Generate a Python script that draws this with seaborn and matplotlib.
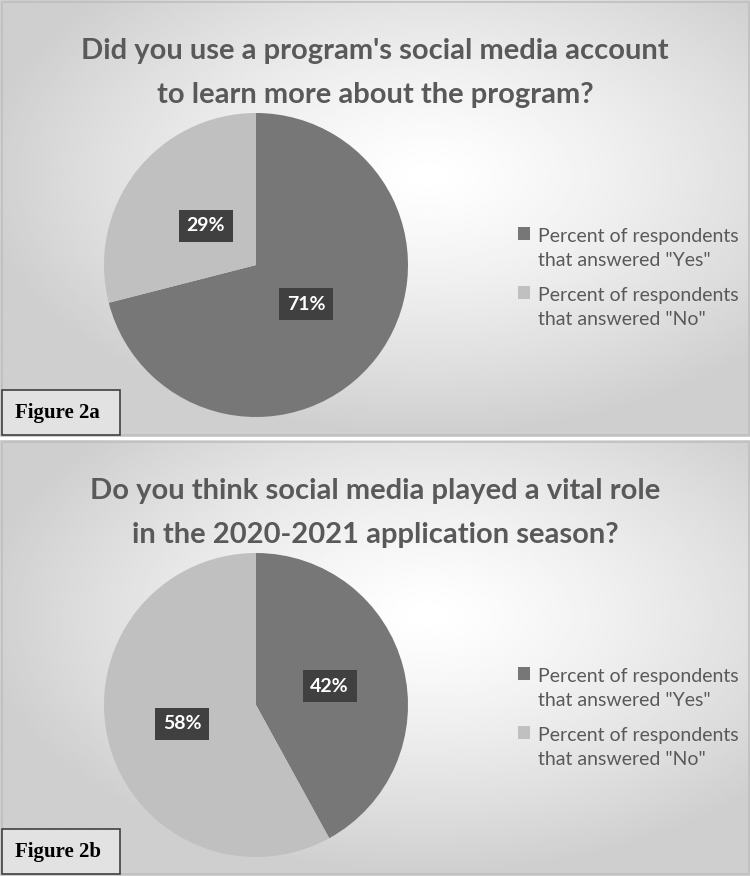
import numpy as np
import matplotlib
matplotlib.use('Agg')
import matplotlib.pyplot as plt
import seaborn as sns
from matplotlib.patches import Rectangle
from matplotlib.legend_handler import HandlerPatch

sns.set_theme(style="white")
plt.rcParams['font.family'] = ['Lato', 'DejaVu Sans']

# Datos de las dos encuestas
preguntas = [
    "Did you use a program's social media account\nto learn more about the program?",
    "Do you think social media played a vital role\nin the 2020-2021 application season?",
]
etiquetas = ['Percent of respondents\nthat answered "Yes"',
             'Percent of respondents\nthat answered "No"']
valores_si = [71, 42]
valores_no = [29, 58]
figuras = ['Figure 2a', 'Figure 2b']

colores = ['#777777', '#c0c0c0']
texto_gris = '#595959'

W, H = 750, 876
fig = plt.figure(figsize=(W / 100, H / 100), dpi=100)

# paneles en pixeles: (top, bottom)
paneles = [(0, 437), (440, 876)]
pct_dist = [0.42, 0.5]


def fx(px):
    return px / W


def fy(py):
    return 1 - py / H


# marcador de la leyenda alineado con la primera linea del texto
def marcador_arriba(legend, orig_handle, xdescent, ydescent, width, height, fontsize):
    return Rectangle((-xdescent, -ydescent + 0.78 * fontsize), width, height)


for i, (top, bottom) in enumerate(paneles):
    alto = bottom - top
    # Fondo con gradiente radial
    ax_bg = fig.add_axes([0, fy(bottom), 1, alto / H])
    xx, yy = np.meshgrid(np.linspace(0, 1, 300), np.linspace(0, 1, 200))
    d = np.sqrt(((xx - 0.57) / 0.6) ** 2 + ((yy - 0.6) / 0.6) ** 2)
    fondo = 1 - 0.19 * np.clip(d, 0, 1) ** 1.3
    ax_bg.imshow(fondo, cmap='gray', vmin=0, vmax=1,
                 extent=[0, 1, 0, 1], aspect='auto', origin='lower')
    ax_bg.set_xlim(0, 1)
    ax_bg.set_ylim(0, 1)
    ax_bg.axis('off')
    ax_bg.add_patch(Rectangle((0.002, 0.004), 0.996, 0.992, fill=False,
                              ec='#bfbfbf', lw=1.2, transform=ax_bg.transAxes))

    # Titulo
    fig.text(0.5, fy(top + 73), preguntas[i], ha='center', va='center',
             fontsize=21, fontweight='bold', color=texto_gris, linespacing=1.9)

    # Grafico de torta
    cy = top + 265
    r = 152
    ax = fig.add_axes([fx(256 - r), fy(cy + r), 2 * r / W, 2 * r / H])
    wedges, textos, autotextos = ax.pie(
        [valores_si[i], valores_no[i]], colors=colores, startangle=90,
        counterclock=False, autopct='%1.0f%%', pctdistance=pct_dist[i],
        wedgeprops=dict(linewidth=0), radius=1)
    for t in autotextos:
        t.set_color('white')
        t.set_fontsize(14)
        t.set_fontweight('bold')
        t.set_bbox(dict(boxstyle='square,pad=0.4', fc='#404040', ec='none'))
    ax.set_xlim(-1, 1)
    ax.set_ylim(-1, 1)
    ax.axis('off')

    leg = ax.legend(wedges, etiquetas, loc='center left',
                    bbox_to_anchor=(fx(508), fy(top + 278)),
                    bbox_transform=fig.transFigure, frameon=False, fontsize=14,
                    labelcolor=texto_gris, handlelength=0.65, handleheight=0.65,
                    handletextpad=0.4, labelspacing=0.9, borderpad=0,
                    handler_map={w: HandlerPatch(patch_func=marcador_arriba)
                                 for w in wedges})
    for t in leg.get_texts():
        t.set_linespacing(1.55)

    # Caja de la figura
    fig.patches.append(Rectangle((fx(2), fy(bottom - 2)), fx(118), 45 / H,
                                 transform=fig.transFigure, fc='#e2e2e2',
                                 ec='#404040', lw=1.2))
    fig.text(fx(15), fy(bottom - 24), figuras[i], ha='left', va='center',
             fontsize=15, fontweight='bold', color='black',
             family='Liberation Serif')

plt.savefig('out.png', dpi=100)
plt.close()
